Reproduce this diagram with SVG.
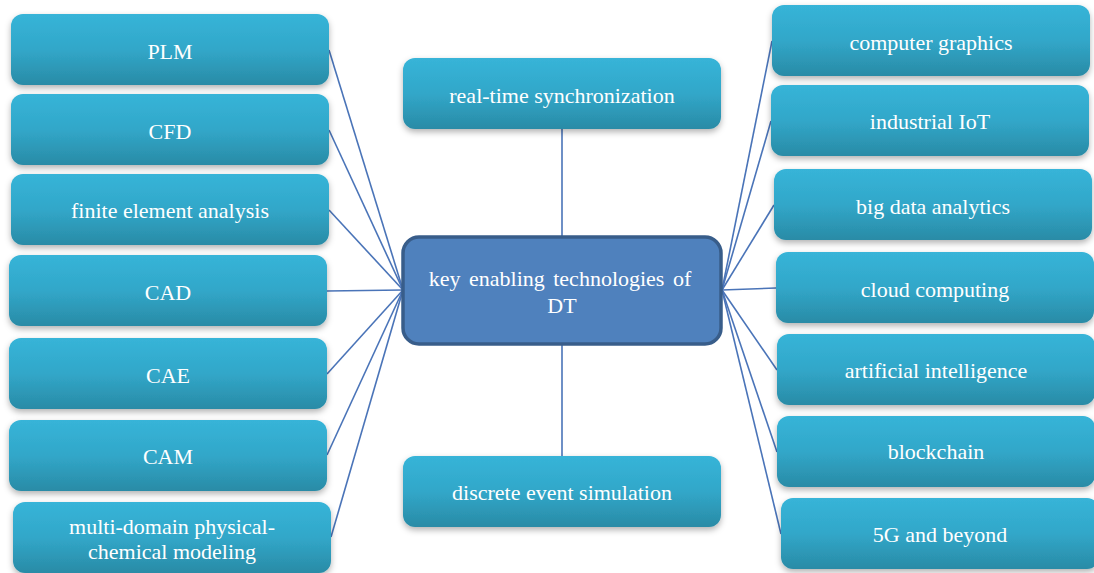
<svg xmlns="http://www.w3.org/2000/svg" width="1094" height="573" viewBox="0 0 1094 573">
<defs>
<linearGradient id="g" x1="0" y1="0" x2="0" y2="1">
<stop offset="0" stop-color="#37b4d8"/>
<stop offset="0.5" stop-color="#31a7c9"/>
<stop offset="1" stop-color="#2a8ba6"/>
</linearGradient>
<filter id="sh" x="-10%" y="-10%" width="120%" height="140%">
<feDropShadow dx="0" dy="3" stdDeviation="3" flood-color="#000" flood-opacity="0.3"/>
</filter>
</defs>
<style>
.n rect{fill:url(#g);filter:url(#sh)}
text{font-family:'Liberation Serif',serif;font-size:22px;fill:#fff;text-anchor:middle}
.c rect{fill:#4f81bd;stroke:#385d8a;stroke-width:3.5}
#edges line{stroke:#4a74b8;stroke-width:1.6}
</style>
<g id="edges">
<line x1="329" y1="50" x2="403" y2="290"/>
<line x1="329" y1="130" x2="403" y2="290"/>
<line x1="329" y1="210" x2="403" y2="290"/>
<line x1="327" y1="291" x2="403" y2="290"/>
<line x1="327" y1="374" x2="403" y2="290"/>
<line x1="327" y1="455" x2="403" y2="290"/>
<line x1="331" y1="537" x2="403" y2="290"/>
<line x1="772" y1="41" x2="722" y2="290"/>
<line x1="771" y1="121" x2="722" y2="290"/>
<line x1="774" y1="205" x2="722" y2="290"/>
<line x1="776" y1="288" x2="722" y2="290"/>
<line x1="777" y1="370" x2="722" y2="290"/>
<line x1="777" y1="452" x2="722" y2="290"/>
<line x1="781" y1="534" x2="722" y2="290"/>
<line x1="562" y1="129" x2="562" y2="237"/>
<line x1="562" y1="344" x2="562" y2="456"/>
</g>
<g font-family="Liberation Serif, serif">
<g id="n-plm" class="n"><rect x="11" y="14" width="318" height="71" rx="12"/><text x="170" y="59">PLM</text></g>
<g id="n-cfd" class="n"><rect x="11" y="94" width="318" height="71" rx="12"/><text x="170" y="139">CFD</text></g>
<g id="n-fea" class="n"><rect x="11" y="174" width="318" height="71" rx="12"/><text x="170" y="218">finite element analysis</text></g>
<g id="n-cad" class="n"><rect x="9" y="255" width="318" height="71" rx="12"/><text x="168" y="300">CAD</text></g>
<g id="n-cae" class="n"><rect x="9" y="338" width="318" height="71" rx="12"/><text x="168" y="383">CAE</text></g>
<g id="n-cam" class="n"><rect x="9" y="420" width="318" height="71" rx="12"/><text x="168" y="464">CAM</text></g>
<g id="n-multi" class="n"><rect x="13" y="502" width="318" height="71" rx="12"/><text x="172" y="534">multi-domain physical-</text><text x="172" y="559">chemical modeling</text></g>
<g id="n-rts" class="n"><rect x="403" y="58" width="318" height="71" rx="12"/><text x="562" y="103">real-time synchronization</text></g>
<g id="n-des" class="n"><rect x="403" y="456" width="318" height="71" rx="12"/><text x="562" y="500">discrete event simulation</text></g>
<g id="n-cg" class="n"><rect x="772" y="5" width="318" height="71" rx="12"/><text x="931" y="50">computer graphics</text></g>
<g id="n-iot" class="n"><rect x="771" y="85" width="318" height="71" rx="12"/><text x="930" y="129">industrial IoT</text></g>
<g id="n-bda" class="n"><rect x="774" y="169" width="318" height="71" rx="12"/><text x="933" y="214">big data analytics</text></g>
<g id="n-cc" class="n"><rect x="776" y="252" width="318" height="71" rx="12"/><text x="935" y="297">cloud computing</text></g>
<g id="n-ai" class="n"><rect x="777" y="334" width="318" height="71" rx="12"/><text x="936" y="378">artificial intelligence</text></g>
<g id="n-bc" class="n"><rect x="777" y="416" width="318" height="71" rx="12"/><text x="936" y="459">blockchain</text></g>
<g id="n-5g" class="n"><rect x="781" y="498" width="318" height="71" rx="12"/><text x="940" y="542">5G and beyond</text></g>
<g id="n-center" class="c"><rect x="403" y="237" width="318" height="107" rx="16"/><text x="560" y="286" word-spacing="3">key enabling technologies of</text><text x="562" y="313">DT</text></g>
</g>
</svg>
